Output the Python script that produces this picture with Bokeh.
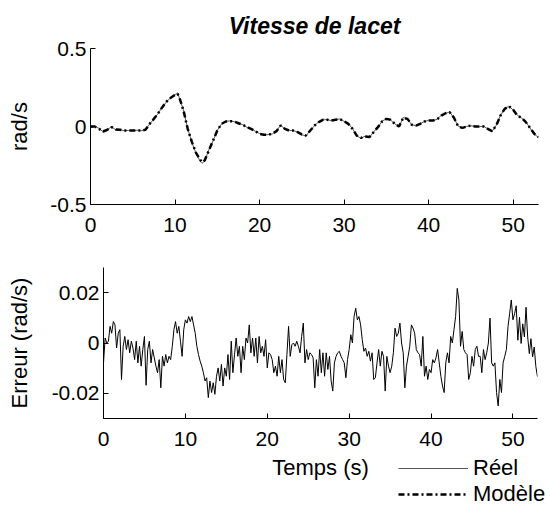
import numpy as np
from bokeh.plotting import figure
from bokeh.models import (FixedTicker, CustomJSTickFormatter, Legend, LegendItem,
                          Range1d, Label)
from bokeh.core.properties import value
from bokeh.embed import file_html
from bokeh.resources import INLINE

# ---------------- data ----------------
title_text = "Vitesse de lacet"
x_ticks = [0, 10, 20, 30, 40, 50]
top_y_ticks = [-0.5, 0, 0.5]
bot_y_ticks = [-0.02, 0, 0.02]

t_top = [0, 0.5, 1, 1.5, 2, 2.5, 3, 3.5, 4, 4.5, 5, 5.5, 6, 6.5, 7, 7.5, 8, 8.5,
         9, 9.5, 10, 10.3, 10.5, 11, 11.5, 12, 12.5, 13, 13.2, 13.5, 14, 14.5,
         15, 15.5, 16, 16.5, 17, 17.5, 18, 18.5, 19, 19.5, 20, 20.5, 21, 21.5,
         22, 22.5, 23, 23.5, 24, 24.5, 25, 25.5, 26, 26.5, 27, 27.5, 28, 28.5,
         29, 29.5, 30, 30.5, 31, 31.5, 32, 32.5, 33, 33.5, 34, 34.5, 35, 35.5,
         36, 36.5, 37, 37.5, 38, 38.5, 39, 39.5, 40, 40.5, 41, 41.5, 42, 42.5,
         43, 43.5, 44, 44.5, 45, 45.5, 46, 46.5, 47, 47.5, 48, 48.5, 49, 49.5,
         50, 50.5, 51, 51.5, 52, 52.5, 53]

yaw_modele = [0.0, 0.0, -0.015, -0.032, -0.021, -0.004, -0.019, -0.021, -0.026,
              -0.026, -0.026, -0.026, -0.026, -0.021, 0.017, 0.049, 0.085, 0.124,
              0.16, 0.184, 0.203, 0.21, 0.188, 0.103, -0.015, -0.10, -0.171,
              -0.214, -0.229, -0.218, -0.154, -0.09, -0.026, 0.017, 0.032, 0.034,
              0.032, 0.021, 0.011, -0.004, -0.015, -0.03, -0.047, -0.053, -0.053,
              -0.047, -0.03, 0.006, -0.015, -0.026, -0.026, -0.036, -0.051, -0.058,
              -0.026, 0.006, 0.028, 0.043, 0.043, 0.038, 0.043, 0.047, 0.034,
              0.017, -0.015, -0.058, -0.073, -0.064, -0.068, -0.036, -0.004,
              0.032, 0.049, 0.043, 0.017, 0.0, 0.056, 0.049, 0.011, 0.006, 0.017,
              0.032, 0.038, 0.038, 0.045, 0.07, 0.085, 0.092, 0.056, 0.0, -0.009,
              0.0, 0.006, 0.0, 0.0, 0.0, -0.015, -0.03, 0.006, 0.07, 0.113, 0.13,
              0.107, 0.07, 0.056, 0.028, -0.009, -0.047, -0.068]

yaw_reel = [-0.008, 0.002, -0.012, -0.034, -0.019, -0.002, -0.022, -0.02, -0.028,
            -0.025, -0.027, -0.024, -0.027, -0.02, 0.015, 0.05, 0.083, 0.126,
            0.158, 0.186, 0.205, 0.213, 0.186, 0.105, -0.013, -0.103, -0.175,
            -0.225, -0.236, -0.222, -0.15, -0.092, -0.024, 0.015, 0.033, 0.036,
            0.031, 0.02, 0.012, -0.005, -0.014, -0.031, -0.045, -0.055, -0.052,
            -0.048, -0.028, 0.008, -0.016, -0.025, -0.027, -0.035, -0.053, -0.06,
            -0.024, 0.005, 0.03, 0.042, 0.045, 0.037, 0.044, 0.048, 0.033,
            0.019, -0.013, -0.06, -0.075, -0.062, -0.07, -0.034, -0.006,
            0.034, 0.05, 0.041, 0.018, -0.002, 0.058, 0.047, 0.012, 0.005, 0.019,
            0.031, 0.04, 0.037, 0.046, 0.072, 0.083, 0.094, 0.054, 0.002, -0.01,
            0.001, 0.005, 0.001, -0.001, 0.002, -0.016, -0.032, 0.008, 0.072,
            0.111, 0.132, 0.105, 0.072, 0.054, 0.03, -0.01, -0.049, -0.07]

# error signal, sampled every 0.2 s from 0 to 53 s (rad/s)
err_dt = 0.2
erreur = [
    -0.0079, 0.0020, 0.0000, 0.0007, 0.0066, 0.0039, 0.0085, 0.0072, -0.0020, 0.0039,
    0.0053, -0.0145, -0.0013, 0.0026, -0.0026, 0.0013, -0.0039, 0.0007, -0.0020, -0.0066,
    0.0007, -0.0079, -0.0013, -0.0092, -0.0026, 0.0026, -0.0168, -0.0026, 0.0007, -0.0079,
    -0.0026, -0.0059, -0.0092, -0.0118, -0.0066, -0.0178, -0.0053, -0.0092, -0.0046, -0.0079,
    -0.0053, -0.0066, -0.0013, 0.0053, 0.0085, 0.0039, 0.0066, 0.0007, -0.0053, 0.0053,
    0.0092, 0.0079, 0.0105, 0.0085, 0.0105, 0.0072, 0.0039, -0.0013, -0.0046, -0.0072,
    -0.0092, -0.0118, -0.0151, -0.0138, -0.0217, -0.0151, -0.0197, -0.0158, -0.0204, -0.0132,
    -0.0099, -0.0151, -0.0085, -0.0171, -0.0099, -0.0132, -0.0046, -0.0145, 0.0007, -0.0118,
    -0.0046, 0.0020, -0.0053, -0.0013, -0.0118, -0.0013, -0.0066, 0.0020, 0.0000, 0.0072,
    -0.0039, 0.0020, -0.0053, 0.0020, -0.0079, 0.0026, -0.0039, -0.0013, -0.0053, 0.0013,
    -0.0099, -0.0039, -0.0046, -0.0066, -0.0118, -0.0092, -0.0132, -0.0053, -0.0118, -0.0066,
    -0.0145, -0.0158, -0.0046, 0.0066, -0.0053, -0.0007, 0.0000, -0.0013, 0.0007, -0.0013,
    -0.0039, 0.0026, 0.0079, -0.0079, -0.0026, -0.0066, -0.0039, -0.0046, -0.0059, -0.0178,
    -0.0066, -0.0132, -0.0026, -0.0118, -0.0039, -0.0132, -0.0039, -0.0105, -0.0053, -0.0151,
    -0.0191, -0.0079, -0.0053, -0.0039, -0.0033, -0.0053, -0.0066, -0.0079, -0.0138, -0.0066,
    -0.0026, 0.0033, 0.0000, 0.0105, 0.0138, 0.0092, 0.0105, 0.0072, 0.0013, -0.0033,
    -0.0020, -0.0053, -0.0033, -0.0072, -0.0039, -0.0145, -0.0138, -0.0079, -0.0026, -0.0092,
    -0.0033, -0.0053, -0.0191, -0.0053, -0.0092, -0.0118, -0.0092, -0.0039, 0.0059, 0.0026,
    0.0039, 0.0079, 0.0000, -0.0039, -0.0178, -0.0092, -0.0053, -0.0013, 0.0072, 0.0059,
    0.0039, -0.0026, -0.0039, -0.0046, -0.0092, 0.0026, -0.0132, -0.0092, -0.0145, -0.0105,
    -0.0118, -0.0066, -0.0079, -0.0059, -0.0026, -0.0079, -0.0132, -0.0171, -0.0197, -0.0079,
    -0.0039, -0.0079, 0.0026, 0.0000, 0.0053, 0.0105, 0.0217, 0.0171, -0.0013, 0.0046,
    -0.0026, -0.0039, -0.0046, -0.0145, -0.0118, -0.0053, -0.0092, -0.0026, -0.0013, -0.0053,
    -0.0053, -0.0118, -0.0026, -0.0066, -0.0039, 0.0000, 0.0099, -0.0079, -0.0092, -0.0079,
    -0.0197, -0.0250, -0.0145, -0.0197, -0.0079, -0.0053, -0.0026, 0.0066, 0.0118, 0.0171,
    0.0092, 0.0116, 0.0148, 0.0011, 0.0102, -0.0002, 0.0076, 0.0024, 0.0142, 0.0024,
    -0.0042, 0.0017, -0.0055, -0.0016, -0.0094, -0.0134,
]
t_err = np.round(np.arange(len(erreur)) * err_dt, 1)

x_label = "Temps (s)"
legend_labels = ["Réel", "Modèle"]

FONT = "Liberation Sans"
REEL_STYLE = dict(line_color="#555555", line_width=1)
MOD_STYLE = dict(line_color="black", line_width=2.5, line_dash="6 3 2 3")


def style(p, ylabel, yfmt, yticks, ystand):
    p.outline_line_color = None
    p.xgrid.grid_line_color = None
    p.ygrid.grid_line_color = None
    p.background_fill_color = "white"
    p.border_fill_color = "white"
    for ax in (p.xaxis[0], p.yaxis[0]):
        ax.axis_line_color = "black"
        ax.axis_line_width = 1
        ax.major_tick_line_color = "black"
        ax.major_tick_in = 5
        ax.major_tick_out = 0
        ax.minor_tick_line_color = None
        ax.major_label_text_font = FONT
        ax.major_label_text_font_size = "21px"
        ax.major_label_text_color = "black"
        ax.axis_label_text_font = FONT
        ax.axis_label_text_font_size = "22px"
        ax.axis_label_text_font_style = "normal"
        ax.axis_label_text_color = "black"
    p.xaxis.ticker = FixedTicker(ticks=x_ticks)
    p.xaxis.major_label_standoff = 13
    p.yaxis.ticker = FixedTicker(ticks=yticks)
    p.yaxis.formatter = CustomJSTickFormatter(
        code="return Math.abs(tick) < 1e-12 ? '0' : tick.toFixed(%d);" % yfmt)
    p.yaxis.major_label_standoff = 4
    p.yaxis.axis_label = ylabel
    p.yaxis.axis_label_standoff = ystand


# ---------------- top: yaw rate ----------------
p1 = figure(width=542, height=244, output_backend="svg", toolbar_location=None,
            x_range=Range1d(0, 53), y_range=Range1d(-0.5, 0.5),
            min_border_left=90, min_border_right=4, min_border_top=48,
            min_border_bottom=40)
style(p1, "rad/s", 1, top_y_ticks, 15)
p1.title.text = title_text
p1.title.align = "center"
p1.title.text_font = FONT
p1.title.text_font_size = "23px"
p1.title.text_font_style = "bold italic"
p1.title.text_color = "black"
p1.title.standoff = 20

p1.line(t_top, yaw_reel, **REEL_STYLE)
p1.line(t_top, yaw_modele, **MOD_STYLE)

# ---------------- bottom: error ----------------
p2 = figure(width=541, height=210, output_backend="svg", toolbar_location=None,
            x_range=Range1d(0, 53), y_range=Range1d(-0.03, 0.03),
            min_border_left=103, min_border_right=4, min_border_top=23,
            min_border_bottom=36)
style(p2, "Erreur (rad/s)", 2, bot_y_ticks, 17)

p2.line(t_err, erreur, line_color="black", line_width=1)

# ---------------- strip below: x label + legend ----------------
# pixel-like ranges; the series drawn here only feed the legend swatches
# (their values lie outside this strip's y range, so they are not visible)
p3 = figure(width=546, height=54, output_backend="svg", toolbar_location=None,
            x_range=Range1d(0, 546), y_range=Range1d(100, 154),
            x_axis_type=None, y_axis_type=None,
            min_border_left=0, min_border_right=0, min_border_top=0,
            min_border_bottom=0)
p3.outline_line_color = None
p3.xgrid.grid_line_color = None
p3.ygrid.grid_line_color = None
p3.background_fill_color = "white"
p3.border_fill_color = "white"
p3.add_layout(Label(x=320, y=141, text=x_label, text_align="center",
                    text_baseline="middle", text_font=FONT,
                    text_font_size="22px", text_color="black"))

leg_reel = p3.line(t_top, yaw_reel, **REEL_STYLE)
leg_mod = p3.line(t_top, yaw_modele, **MOD_STYLE)
legend = Legend(
    items=[LegendItem(label=value(legend_labels[0]), renderers=[leg_reel]),
           LegendItem(label=value(legend_labels[1]), renderers=[leg_mod])],
    location=(398, 1), orientation="vertical",
    glyph_width=70, glyph_height=20, label_height=20, label_standoff=5,
    spacing=0, padding=0, margin=0,
    border_line_color=None, background_fill_alpha=0,
    label_text_font=FONT, label_text_font_size="22px", label_text_color="black")
p3.add_layout(legend)

open("out.html", "w").write(file_html([p1, p2, p3], INLINE))
